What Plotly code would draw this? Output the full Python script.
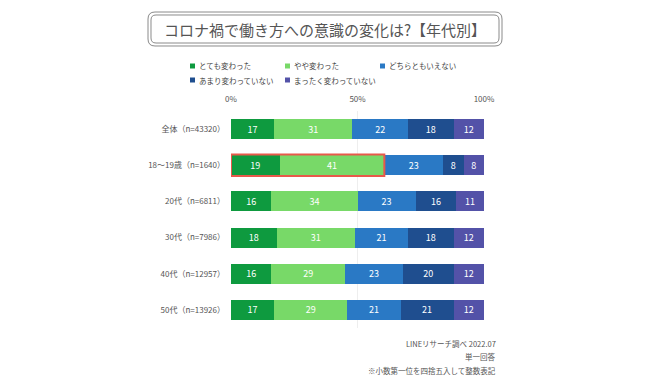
import plotly.graph_objects as go

categories = ["全体（n=43320）", "18～19歳（n=1640）", "20代（n=6811）",
              "30代（n=7986）", "40代（n=12957）", "50代（n=13926）"]
series_names = ["とても変わった", "やや変わった", "どちらともいえない",
                "あまり変わっていない", "まったく変わっていない"]
totemo = [17, 19, 16, 18, 16, 17]
yaya = [31, 41, 34, 31, 29, 29]
dochira = [22, 23, 23, 21, 23, 21]
amari = [18, 8, 16, 18, 20, 21]
mattaku = [12, 8, 11, 12, 12, 12]
series_values = [totemo, yaya, dochira, amari, mattaku]
colors = ["#0e9a3f", "#78d968", "#2a79c5", "#1f4e8f", "#5352a8"]
tick_vals = [0, 50, 100]
tick_text = ["0%", "50%", "100%"]
title_text = "コロナ禍で働き方への意識の変化は?【年代別】"
footer_lines = ["LINEリサーチ調べ 2022.07", "単一回答", "※小数第一位を四捨五入して整数表記"]
highlight_row = 1

W, H = 650, 380
OFF = 8  # page body margin offset
# plot area in screen pixels: x 231..484, y 111..328
SX0, SX1, SY0, SY1 = 231, 484, 111, 328
L, T = SX0 - OFF, SY0 - OFF
R, B = W - (SX1 - OFF), H - (SY1 - OFF)
PW, PH = SX1 - SX0, SY1 - SY0
FONT = "Noto Sans CJK JP, Noto Sans, sans-serif"


def px(x):
    return (x - SX0) / PW


def py(y):
    return (SY1 - y) / PH


fig = go.Figure()
for name, vals, col in zip(series_names, series_values, colors):
    fig.add_trace(go.Bar(
        y=categories, x=vals, name=name, orientation="h",
        marker=dict(color=col, line=dict(width=0)),
        text=[str(v) for v in vals], textposition="inside",
        insidetextanchor="middle", textangle=0,
        textfont=dict(color="white", size=9, family=FONT),
        showlegend=False, hoverinfo="skip",
    ))

# legend: small squares + labels, placed in a 3 + 2 grid like the original
legend_pos = [(190, 66), (285, 66), (380, 66), (190, 80), (285, 80)]
for name, col, (lx, ly) in zip(series_names, colors, legend_pos):
    fig.add_shape(type="rect", xref="paper", yref="paper",
                  x0=px(lx), x1=px(lx + 5), y0=py(ly + 2.5), y1=py(ly - 2.5),
                  line=dict(width=0), fillcolor=col)
    fig.add_annotation(xref="paper", yref="paper", x=px(lx + 7), y=py(ly),
                       text=name, showarrow=False, xanchor="left", yanchor="middle",
                       font=dict(size=7.5, color="#444444", family=FONT))

# highlight rectangle around first two segments of 18-19 row
row_total = sum(v[highlight_row] for v in series_values)
x_end = (totemo[highlight_row] + yaya[highlight_row]) / row_total * 100
fig.add_shape(type="rect", xref="x", yref="y",
              x0=0, x1=x_end, y0=highlight_row - 0.3, y1=highlight_row + 0.3,
              line=dict(color="#e8594a", width=2), fillcolor="rgba(0,0,0,0)",
              layer="above")


def rounded(x0, y0, x1, y1, r):
    def P(x, y):
        return f"{px(x):.5f},{py(y):.5f}"
    return (f"M {P(x0 + r, y0)} L {P(x1 - r, y0)} Q {P(x1, y0)} {P(x1, y0 + r)} "
            f"L {P(x1, y1 - r)} Q {P(x1, y1)} {P(x1 - r, y1)} "
            f"L {P(x0 + r, y1)} Q {P(x0, y1)} {P(x0, y1 - r)} "
            f"L {P(x0, y0 + r)} Q {P(x0, y0)} {P(x0 + r, y0)} Z")


fig.add_shape(type="path", xref="paper", yref="paper",
              path=rounded(148, 12, 502, 46, 7), line=dict(color="#8a8a8a", width=1))
fig.add_shape(type="path", xref="paper", yref="paper",
              path=rounded(151, 15, 499, 43, 5), line=dict(color="#8a8a8a", width=1))

fig.add_annotation(xref="paper", yref="paper", x=px(325), y=py(29),
                   text=title_text, showarrow=False,
                   font=dict(size=15, color="#555555", family=FONT),
                   xanchor="center", yanchor="middle")

for i, line in enumerate(footer_lines):
    fig.add_annotation(xref="paper", yref="paper", x=px(498), y=py(343 + i * 13.5),
                       text=line, showarrow=False,
                       font=dict(size=7.5, color="#555555", family=FONT),
                       xanchor="right", yanchor="middle")

fig.update_layout(
    width=W, height=H,
    margin=dict(l=L, r=R, t=T, b=B, autoexpand=False),
    barmode="stack", barnorm="percent", bargap=0.45,
    plot_bgcolor="white", paper_bgcolor="white",
    font=dict(family=FONT, color="#555555", size=8),
    showlegend=False,
    xaxis=dict(range=[0, 100], side="top", tickvals=tick_vals, ticktext=tick_text,
               showgrid=True, gridcolor="#eeeeee", gridwidth=1, zeroline=False,
               showline=False, ticks="", ticklabelstandoff=6,
               tickfont=dict(size=8, color="#555555", family=FONT), fixedrange=True),
    yaxis=dict(categoryorder="array", categoryarray=categories, autorange="reversed",
               showgrid=False, zeroline=False, showline=False, ticks="",
               ticklabelstandoff=5,
               tickfont=dict(size=8, color="#555555", family=FONT), fixedrange=True),
)

fig.write_html("out.html")
